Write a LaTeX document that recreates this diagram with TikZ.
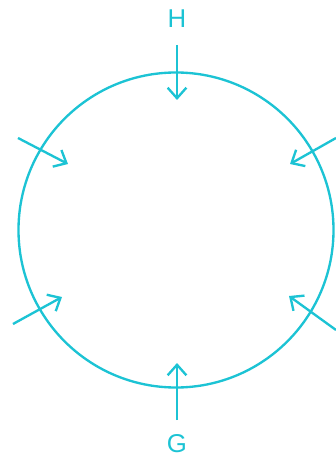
\documentclass[tikz,border=0pt]{standalone}
\usepackage{fontspec}
\setmainfont{Liberation Sans}
\usetikzlibrary{arrows.meta}
\definecolor{ringcyan}{HTML}{1CC3D4}

\begin{document}
\begin{tikzpicture}[x=0.03cm,y=-0.03cm,>={Straight Barb[length=9pt,width=16pt]}]
        \tikzset{ring/.style={draw=ringcyan,line width=2pt,circle,inner sep=0pt,minimum size=9.45cm},
                 push/.style={->,ringcyan,line width=2pt},
                 lbl/.style={text=ringcyan,inner sep=0pt,font=\fontsize{22}{22}\selectfont}}
        \useasboundingbox (0,0) rectangle (335,460);
        \node[ring] (ring) at (176,230) {};
        \node[lbl] (hlbl) at (177,19) {H};
        \node[lbl] (glbl) at (177,444) {G};
        \coordinate (hTail) at (177,45);  \coordinate (hTip) at (177,100);
        \coordinate (gTail) at (177,420); \coordinate (gTip) at (177,363);
        \coordinate (ulTail) at (18,138);  \coordinate (ulTip) at (68,164);
        \coordinate (llTail) at (13,324);  \coordinate (llTip) at (62,297);
        \coordinate (urTail) at (336,138); \coordinate (urTip) at (290,164);
        \coordinate (lrTail) at (336,330); \coordinate (lrTip) at (289,296);
        \draw[push] (hTail) -- (hTip);
        \draw[push] (gTail) -- (gTip);
        \draw[push] (ulTail) -- (ulTip);
        \draw[push] (llTail) -- (llTip);
        \draw[push] (urTail) -- (urTip);
        \draw[push] (lrTail) -- (lrTip);
      \end{tikzpicture}
\end{document}
